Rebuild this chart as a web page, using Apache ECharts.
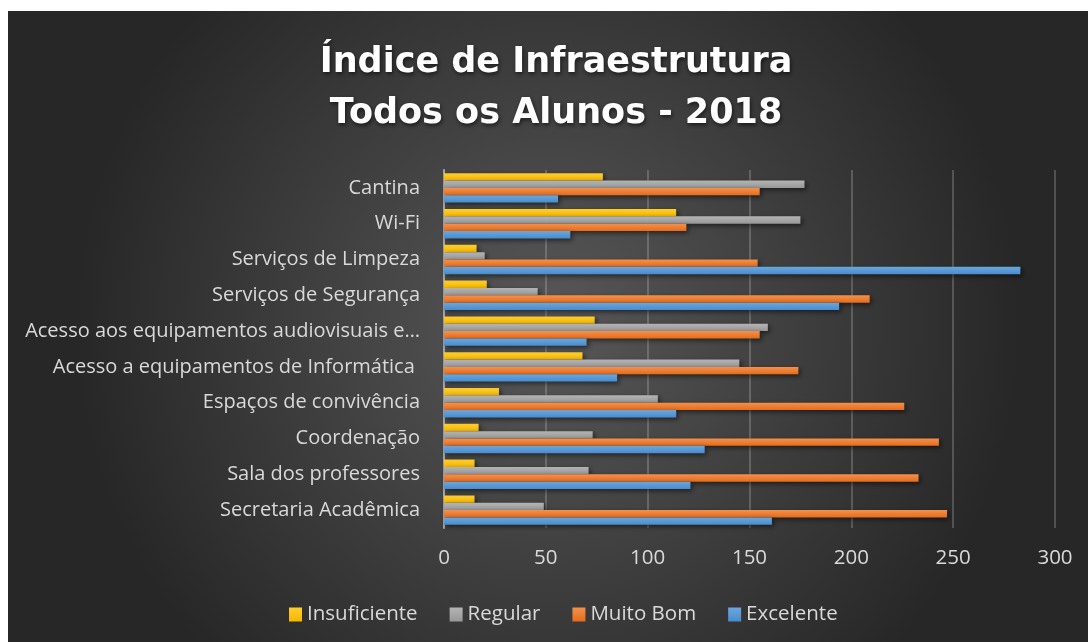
<!DOCTYPE html>
<html>
<head>
<meta charset="utf-8">
<script src="https://cdn.jsdelivr.net/npm/echarts@6/dist/echarts.min.js"></script>
<style>
  html, body { margin: 0; padding: 0; background: #fff; }
  #main { position: absolute; left: 8px; top: 11px; width: 1080px; height: 631px; }
</style>
</head>
<body>
<div id="main"></div>
<script>
// categorias de baixo para cima
var categorias = [
  'Secretaria Acadêmica',
  'Sala dos professores',
  'Coordenação',
  'Espaços de convivência',
  'Acesso a equipamentos de Informática ',
  'Acesso aos equipamentos audiovisuais e…',
  'Serviços de Segurança',
  'Serviços de Limpeza',
  'Wi-Fi',
  'Cantina'
];
var insuficiente = [15, 15, 17, 27, 68, 74, 21, 16, 114, 78];
var regular      = [49, 71, 73, 105, 145, 159, 46, 20, 175, 177];
var muitoBom     = [247, 233, 243, 226, 174, 155, 209, 154, 119, 155];
var excelente    = [161, 121, 128, 114, 85, 70, 194, 283, 62, 56];
var ticks = [0, 50, 100, 150, 200, 250, 300];

var font = 'Open Sans';

function grad(c1, c2) {
  return new echarts.graphic.LinearGradient(0, 0, 0, 1, [
    { offset: 0, color: c1 }, { offset: 1, color: c2 }
  ]);
}

function serie(nome, dados, c1, c2) {
  return {
    name: nome,
    type: 'bar',
    data: dados,
    barGap: '0%',
    barCategoryGap: '18%',
    itemStyle: {
      color: grad(c1, c2),
      shadowColor: 'rgba(0,0,0,0.55)',
      shadowBlur: 5,
      shadowOffsetX: 2,
      shadowOffsetY: 2
    }
  };
}

var myChart = echarts.init(document.getElementById('main'));
myChart.setOption({
  backgroundColor: {
    type: 'radial', x: 0.5, y: 0.5, r: 0.75,
    colorStops: [
      { offset: 0, color: '#585858' },
      { offset: 1, color: '#272727' }
    ]
  },
  textStyle: { fontFamily: font },
  title: {
    text: 'Índice de Infraestrutura\nTodos os Alunos - 2018',
    left: 543,
    top: 21,
    textAlign: 'center',
    textStyle: {
      color: '#ffffff',
      fontSize: 35,
      fontWeight: 'bold',
      fontFamily: 'DejaVu Sans',
      lineHeight: 51,
      textShadowColor: 'rgba(0,0,0,0.6)',
      textShadowBlur: 4,
      textShadowOffsetX: 1,
      textShadowOffsetY: 2
    }
  },
  legend: {
    data: ['Insuficiente', 'Regular', 'Muito Bom', 'Excelente'],
    left: 276,
    top: 588,
    itemWidth: 13,
    itemHeight: 14,
    itemGap: 32,
    icon: 'rect',
    textStyle: { color: '#d9d9d9', fontSize: 20.5, fontFamily: font }
  },
  grid: { left: 436, right: 33, top: 159, bottom: 114, containLabel: false },
  xAxis: {
    type: 'value',
    min: 0,
    max: 300,
    interval: 50,
    axisLine: { show: false },
    axisTick: { show: false },
    axisLabel: {
      color: '#d9d9d9', fontSize: 20.5, margin: 20, fontFamily: font,
      formatter: function (v) { return ticks.indexOf(v) >= 0 ? String(v) : ''; }
    },
    splitLine: { lineStyle: { color: 'rgba(217,217,217,0.24)', width: 2 } }
  },
  yAxis: {
    type: 'category',
    data: categorias,
    axisLine: { show: true, lineStyle: { color: '#a6a6a6', width: 2 } },
    axisTick: { show: false },
    axisLabel: { color: '#d9d9d9', fontSize: 20, margin: 24, fontFamily: font }
  },
  series: [
    serie('Insuficiente', insuficiente, '#ffcd2e', '#f5b800'),
    serie('Regular', regular, '#b4b4b4', '#989898'),
    serie('Muito Bom', muitoBom, '#f5904b', '#e46d1c'),
    serie('Excelente', excelente, '#6aa7de', '#4a8ccb')
  ]
});
</script>
</body>
</html>
